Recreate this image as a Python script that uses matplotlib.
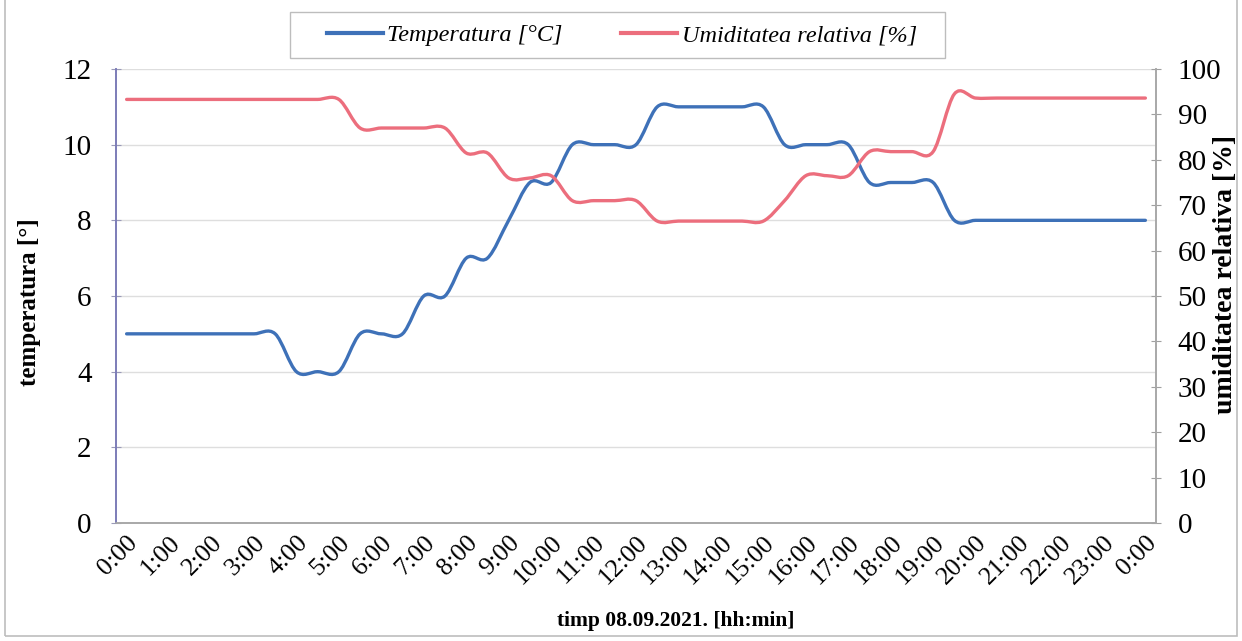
"""Temperature and relative humidity over one day (08.09.2021), Excel-style smoothed lines."""

import numpy as np
import matplotlib

matplotlib.use("Agg")
import matplotlib.pyplot as plt
from matplotlib.lines import Line2D
from matplotlib.path import Path
from matplotlib.patches import PathPatch, Rectangle

# Half-hourly readings, 0:00 -> 0:00 next day (49 samples)
TEMP = [5, 5, 5, 5, 5, 5, 5, 5,
        4, 4, 4,
        5, 5, 5,
        6, 6,
        7, 7,
        8,
        9, 9,
        10, 10, 10, 10,
        11, 11, 11, 11, 11, 11,
        10, 10, 10, 10,
        9, 9, 9, 9,
        8, 8, 8, 8, 8, 8, 8, 8, 8, 8]
HUMIDITY = [93.3, 93.3, 93.3, 93.3, 93.3, 93.3, 93.3, 93.3, 93.3, 93.3, 93.3,
            87, 87, 87, 87, 87,
            81.5, 81.5,
            76, 76, 76.5,
            71, 71, 71, 71,
            66.5, 66.5, 66.5, 66.5, 66.5, 66.5,
            71,
            76.5, 76.5, 76.5,
            81.8, 81.8, 81.8, 81.8,
            94.5,
            93.6, 93.6, 93.6, 93.6, 93.6, 93.6, 93.6, 93.6, 93.6]
HOUR_LABELS = ["0:00", "1:00", "2:00", "3:00", "4:00", "5:00", "6:00", "7:00",
               "8:00", "9:00", "10:00", "11:00", "12:00", "13:00", "14:00",
               "15:00", "16:00", "17:00", "18:00", "19:00", "20:00", "21:00",
               "22:00", "23:00", "0:00"]

COLOR_TEMP = "#3E71B8"
COLOR_HUM = "#EC6E7D"
FONT = "Liberation Serif"
W, H = 1242, 641


def smooth_path(xs, ys):
    """Catmull-Rom style cubic Bezier through the points (like Excel's smoothed line)."""
    pts = np.column_stack([xs, ys]).astype(float)
    padded = np.vstack([pts[:1], pts, pts[-1:]])
    verts = [pts[0]]
    codes = [Path.MOVETO]
    for i in range(len(pts) - 1):
        p0, p1, p2, p3 = padded[i], padded[i + 1], padded[i + 2], padded[i + 3]
        verts += [p1 + (p2 - p0) / 6.0, p2 - (p3 - p1) / 6.0, p2]
        codes += [Path.CURVE4] * 3
    return Path(verts, codes)


def main():
    plt.rcParams["font.family"] = [FONT, "DejaVu Serif"]

    fig = plt.figure(figsize=(W / 100, H / 100), dpi=100)
    ax = fig.add_axes([116 / W, 1 - 523 / H, 1040 / W, 454 / H])
    ax2 = ax.twinx()

    x = np.arange(len(TEMP))
    ax.add_patch(PathPatch(smooth_path(x, TEMP), facecolor="none",
                           edgecolor=COLOR_TEMP, linewidth=2.4, capstyle="round",
                           joinstyle="round", zorder=3))
    ax2.add_patch(PathPatch(smooth_path(x, HUMIDITY), facecolor="none",
                            edgecolor=COLOR_HUM, linewidth=2.4, capstyle="round",
                            joinstyle="round", zorder=3))

    ax.set_xlim(-0.5, len(TEMP) - 0.5)
    ax.set_ylim(0, 12)
    ax2.set_ylim(0, 100)
    ax.set_yticks(range(0, 13, 2))
    ax2.set_yticks(range(0, 101, 10))
    ax.set_xticks(range(0, len(TEMP), 2))
    ax.set_xticklabels(HOUR_LABELS, rotation=45, ha="right", va="top",
                       rotation_mode="anchor", fontsize=18.5)

    ax.tick_params(axis="y", labelsize=21, direction="inout", length=7,
                   color="#9A9AB8", pad=14)
    ax2.tick_params(axis="y", labelsize=21, direction="inout", length=7,
                    color="#A0A0A0", pad=12)
    ax.tick_params(axis="x", length=0, pad=6)

    ax.grid(True, axis="y", color="#DEDEDE", linewidth=1.0)
    ax.set_axisbelow(True)

    for a in (ax, ax2):
        a.spines["top"].set_visible(False)
        a.spines["bottom"].set_color("#A8A8A8")
        a.spines["left"].set_color("#7C7CB8")
        a.spines["right"].set_color("#A8A8A8")
        for s in a.spines.values():
            s.set_linewidth(1.2)

    fig.text(30 / W, 1 - 302 / H, "temperatura [°]", rotation=90,
             fontsize=18, fontweight="bold", ha="center", va="center")
    fig.text(1226 / W, 1 - 274 / H, "umiditatea relativa [%]", rotation=90,
             fontsize=20, fontweight="bold", ha="center", va="center")
    fig.text(676 / W, 1 - 621 / H, "timp 08.09.2021. [hh:min]",
             fontsize=15.5, fontweight="bold", ha="center", va="center")

    # legend box (drawn separately to get the wide side padding)
    fig.patches.append(Rectangle((290 / W, 1 - 58 / H), 655 / W, 46 / H,
                                 transform=fig.transFigure, facecolor="white",
                                 edgecolor="#BDBDBD", linewidth=1.0))
    handles = [Line2D([], [], color=COLOR_TEMP, linewidth=3),
               Line2D([], [], color=COLOR_HUM, linewidth=3)]
    fig.legend(handles, ["Temperatura [°C]", "Umiditatea relativa [%]"],
               loc="center", bbox_to_anchor=(622 / W, 1 - 35 / H),
               ncol=2, frameon=False,
               prop={"family": FONT, "style": "italic", "size": 17.5},
               handlelength=2.3, handletextpad=0.2, columnspacing=2.4)

    # outer chart frame
    fig.patches.append(Rectangle((5 / W, 5 / H), 1232 / W, 1.2,
                                 transform=fig.transFigure, fill=False,
                                 edgecolor="#BDBDBD", linewidth=1.2))

    fig.savefig("out.png", dpi=100, facecolor="white")
    plt.close(fig)


if __name__ == "__main__":
    main()
